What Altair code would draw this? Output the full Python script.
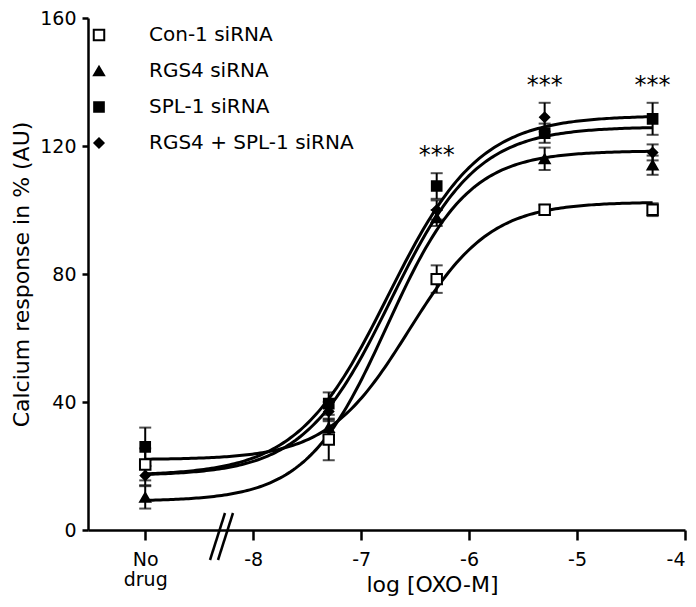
import altair as alt
import pandas as pd
import numpy as np

# ---------------- data ----------------
series = ["Con-1 siRNA", "RGS4 siRNA", "SPL-1 siRNA", "RGS4 + SPL-1 siRNA"]
log_dose = [-9.0, -7.3, -6.3, -5.3, -4.3]          # -9 = "No drug"

con1_mean = [20.5, 28.3, 78.4, 100.1, 100.1]
con1_err = [5.0, 6.5, 4.3, 1.5, 2.0]
rgs4_mean = [10.2, 32.0, 97.5, 116.0, 114.0]
rgs4_err = [3.5, 2.5, 2.5, 3.5, 3.0]
spl1_mean = [26.0, 39.5, 107.5, 124.0, 128.5]
spl1_err = [6.0, 3.5, 4.0, 3.0, 5.0]
combo_mean = [17.0, 37.0, 100.0, 129.0, 118.0]
combo_err = [3.0, 3.0, 3.0, 4.5, 2.5]

# fitted sigmoid (4-parameter logistic) parameters, one per series
fit_bottom = [22.0, 9.0, 17.0, 17.0]
fit_top = [102.5, 118.5, 129.5, 126.0]
fit_logec50 = [-6.56, -6.76, -6.75, -6.73]
fit_hill = [1.15, 1.16, 1.03, 1.08]

star_x = [-6.3, -5.3, -4.3]
star_y = [115.5, 137.5, 137.5]
star_text = ["***", "***", "***"]

x_ticks = [-9, -8, -7, -6, -5, -4]
y_ticks = [0, 40, 80, 120, 160]

# ---------------- tables ----------------
means = [con1_mean, rgs4_mean, spl1_mean, combo_mean]
errs = [con1_err, rgs4_err, spl1_err, combo_err]
rows = []
for s, m, e in zip(series, means, errs):
    for x, v, d in zip(log_dose, m, e):
        rows.append({"series": s, "x": x, "y": v, "lo": v - d, "hi": v + d})
pts = pd.DataFrame(rows)

curve_rows = []
xs = np.linspace(log_dose[0], log_dose[-1], 200)
for s, b, t, ec, h in zip(series, fit_bottom, fit_top, fit_logec50, fit_hill):
    ys = b + (t - b) / (1 + 10 ** (h * (ec - xs)))
    for x, y in zip(xs, ys):
        curve_rows.append({"series": s, "x": float(x), "y": float(y)})
curves = pd.DataFrame(curve_rows)

stars = pd.DataFrame({"x": star_x, "y": star_y, "t": star_text})

FONT = "DejaVu Sans"

xscale = alt.Scale(domain=[-9.53, -4], nice=False, zero=False)
yscale = alt.Scale(domain=[0, 160], nice=False, zero=False)

xaxis = alt.Axis(
    values=x_ticks,
    labelExpr="datum.value == -9 ? ['No', 'drug'] : '-' + abs(datum.value)",
    title="log [OXO-M]",
    titleX=344, titleY=61, titleAlign="center", titleBaseline="alphabetic",
    tickSize=10, labelPadding=10, labelLineHeight=20,
)
yaxis = alt.Axis(values=y_ticks, title="Calcium response in % (AU)",
                 tickSize=6, labelPadding=6, titlePadding=6, titleFontSize=22)

X = alt.X("x:Q", scale=xscale, axis=xaxis)
Y = alt.Y("y:Q", scale=yscale, axis=yaxis)

shape_scale = alt.Scale(domain=series, range=["square", "triangle-up", "square", "diamond"])
fill_scale = alt.Scale(domain=series, range=["white", "black", "black", "black"])
stroke_scale = alt.Scale(domain=series, range=["black", "black", "black", "black"])
size_scale = alt.Scale(domain=series, range=[110, 85, 100, 70])

legend = alt.Legend(
    orient="none", legendX=1, legendY=7, title=None,
    labelFont=FONT, labelFontSize=20, labelColor="black", labelLimit=400,
    symbolStrokeColor="black", symbolStrokeWidth=2,
    rowPadding=16, labelOffset=40,
)

curve_layer = alt.Chart(curves).mark_line(color="black", strokeWidth=3).encode(
    x=X, y=Y, detail="series:N"
)

bars = alt.Chart(pts).mark_rule(color="black", strokeWidth=2).encode(
    x="x:Q", y="lo:Q", y2="hi:Q"
)
cap_lo = alt.Chart(pts).mark_tick(color="black", orient="horizontal", size=12, thickness=2).encode(
    x="x:Q", y="lo:Q"
)
cap_hi = alt.Chart(pts).mark_tick(color="black", orient="horizontal", size=12, thickness=2).encode(
    x="x:Q", y="hi:Q"
)

points = alt.Chart(pts).mark_point(strokeWidth=2, opacity=1, fillOpacity=1).encode(
    x="x:Q", y="y:Q",
    shape=alt.Shape("series:N", scale=shape_scale, legend=legend),
    fill=alt.Fill("series:N", scale=fill_scale, legend=legend),
    stroke=alt.Stroke("series:N", scale=stroke_scale, legend=legend),
    size=alt.Size("series:N", scale=size_scale, legend=legend),
)

star_layer = alt.Chart(stars).mark_text(font=FONT, fontSize=24, color="black", dy=-4).encode(
    x="x:Q", y="y:Q", text="t:N"
)

# axis-break marks, drawn in pixel space
brk1 = alt.Chart(alt.Data(values=[{"a": 1}])).mark_rule(color="black", strokeWidth=2.5).encode(
    x=alt.value(122), x2=alt.value(137), y=alt.value(542), y2=alt.value(495)
)
brk2 = alt.Chart(alt.Data(values=[{"a": 1}])).mark_rule(color="black", strokeWidth=2.5).encode(
    x=alt.value(130), x2=alt.value(145), y=alt.value(542), y2=alt.value(495)
)

chart = alt.layer(curve_layer, bars, cap_lo, cap_hi, points, star_layer, brk1, brk2).properties(
    width=597, height=512,
    autosize=alt.AutoSizeParams(type="none"),
    padding={"left": 80, "top": 10, "right": 3, "bottom": 69},
).configure_view(stroke=None).configure_axis(
    labelFont=FONT, titleFont=FONT, labelFontSize=19, titleFontSize=22,
    titleFontWeight="normal", labelColor="black", titleColor="black",
    domainColor="black", tickColor="black", domainWidth=2.5, tickWidth=2.5,
    grid=False,
)

chart.save("out.html", embed_options={"renderer": "svg", "actions": False})
